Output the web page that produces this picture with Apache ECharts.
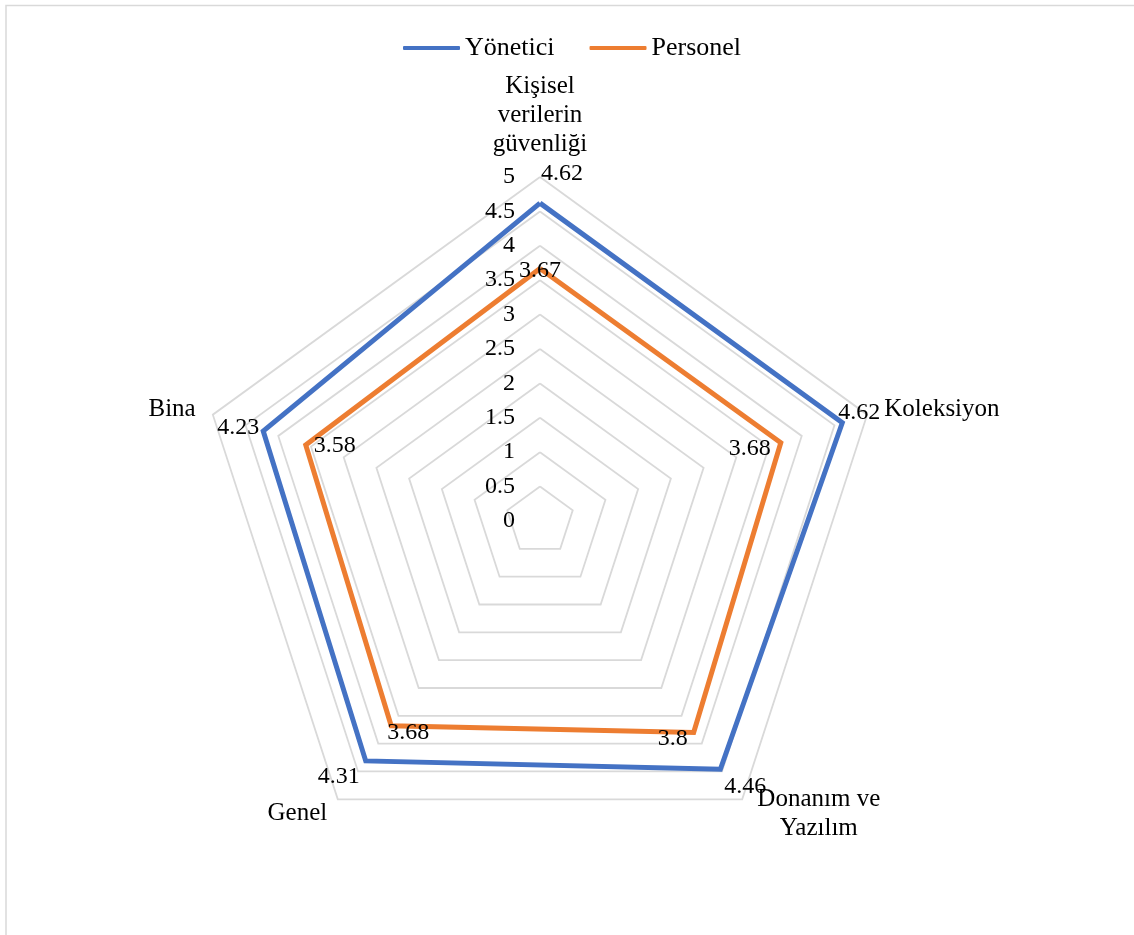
<!DOCTYPE html>
<html>
<head>
<meta charset="utf-8">
<script src="https://cdn.jsdelivr.net/npm/echarts@6/dist/echarts.min.js"></script>
<style>
html,body{margin:0;padding:0;background:#fff;}
#chart{width:1134px;height:935px;}
</style>
</head>
<body>
<div id="chart"></div>
<script>
// ---- data (listed in ECharts radar order: top, then counter-clockwise) ----
var indicatorNames = ['Kişisel\nverilerin\ngüvenliği', 'Bina', 'Genel', 'Donanım ve\nYazılım', 'Koleksiyon'];
var seriesNames = ['Yönetici', 'Personel'];
var yoneticiValues = [4.62, 4.23, 4.31, 4.46, 4.62];
var personelValues = [3.67, 3.58, 3.68, 3.8, 3.68];
var axisMin = 0;
var axisMax = 5;

// ---- layout / style ----
var FONT = 'Liberation Serif';
var CENTER = [540, 521];
var RADIUS = 344;
var COLORS = ['#4472C4', '#ED7D31'];
// label offsets by screen vertex position (top, right, bottom-right, bottom-left, left)
var LABEL_OFFSETS = [
  [[22, -29], [17, -10], [25, 17], [-27, 16], [-25, -3]],
  [[0, 2], [-31, 6], [-21, 6], [17, 7], [29, 1]]
];

var chart = echarts.init(document.getElementById('chart'));

var indicators = indicatorNames.map(function (n, i) {
  var ind = { name: n, min: axisMin, max: axisMax };
  if (i === 0) {
    ind.axisLabel = { show: true };
  }
  return ind;
});

function makeSeries(idx, values) {
  return {
    type: 'radar',
    name: seriesNames[idx],
    symbol: 'circle',
    symbolSize: 1,
    itemStyle: { color: COLORS[idx] },
    lineStyle: { color: COLORS[idx], width: 5, join: 'miter' },
    label: {
      show: true,
      position: 'inside',
      color: '#000',
      fontFamily: FONT,
      fontSize: 24
    },
    labelLayout: function (p) {
      var px = p.rect.x + p.rect.width / 2;
      var py = p.rect.y + p.rect.height / 2;
      var ang = Math.atan2(CENTER[1] - py, px - CENTER[0]) * 180 / Math.PI;
      var k = ((Math.round((90 - ang) / 72) % 5) + 5) % 5;
      var off = LABEL_OFFSETS[idx][k];
      return { x: px + off[0], y: py + off[1], align: 'center', verticalAlign: 'middle' };
    },
    emphasis: { disabled: true },
    silent: true,
    data: [{ name: seriesNames[idx], value: values }]
  };
}

var option = {
  backgroundColor: '#fff',
  animation: false,
  textStyle: { fontFamily: FONT },
  graphic: [{
    type: 'rect',
    shape: { x: 6, y: 5.5, width: 1300, height: 1100 },
    style: { fill: 'none', stroke: '#d9d9d9', lineWidth: 1.5 },
    silent: true
  }],
  legend: {
    data: seriesNames,
    left: 398,
    top: 28,
    icon: 'roundRect',
    itemWidth: 57,
    itemHeight: 4,
    itemGap: 35,
    textStyle: { fontFamily: FONT, fontSize: 26, color: '#000', lineHeight: 30 },
    selectedMode: false
  },
  radar: {
    center: CENTER,
    radius: RADIUS,
    startAngle: 90,
    shape: 'polygon',
    splitNumber: 10,
    nameGap: 18,
    indicator: indicators,
    axisName: {
      color: '#000',
      fontFamily: FONT,
      fontSize: 25,
      lineHeight: 30,
      formatter: function (name) {
        if (name.indexOf('\n') < 0) return name;
        return name.split('\n').map(function (l) { return '{c|' + l + '}'; }).join('\n');
      },
      rich: {
        c: { width: 132, align: 'center', fontFamily: FONT, fontSize: 25, lineHeight: 29, color: '#000' }
      }
    },
    axisLine: { show: false },
    axisTick: { show: false },
    axisLabel: {
      show: false,
      color: '#000',
      fontFamily: FONT,
      fontSize: 24,
      margin: 25
    },
    splitLine: { show: true, lineStyle: { color: '#d9d9d9', width: 1.8 } },
    splitArea: { show: false }
  },
  series: [makeSeries(0, yoneticiValues), makeSeries(1, personelValues)]
};

chart.setOption(option);
</script>
</body>
</html>
